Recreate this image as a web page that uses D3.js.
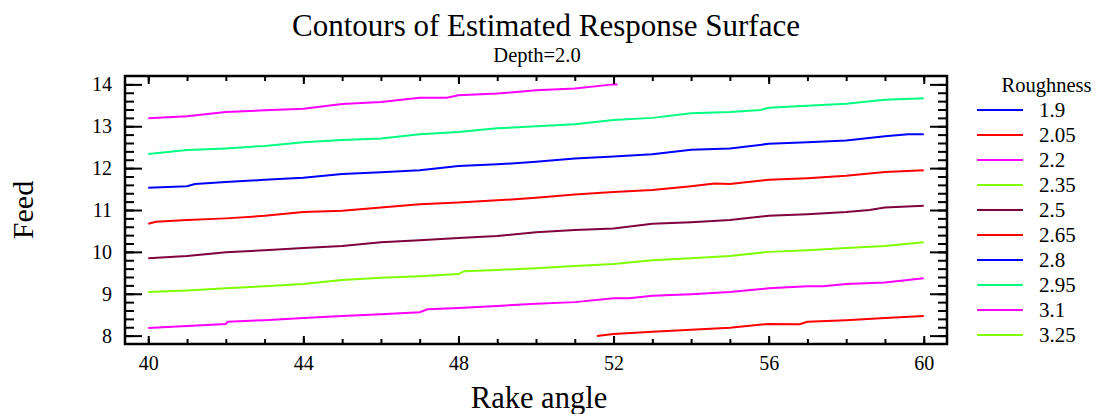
<!DOCTYPE html>
<html><head><meta charset="utf-8">
<script src="https://cdn.jsdelivr.net/npm/d3@7"></script>
<style>body{margin:0;background:#fff}svg{display:block}text{font-family:"Liberation Serif","Times New Roman",serif;fill:#000}</style>
</head><body><svg id="c" width="1096" height="414"></svg>
<script>
const title = "Contours of Estimated Response Surface";
const subtitle = "Depth=2.0";
const xLabel = "Rake angle";
const yLabel = "Feed";
const legendTitle = "Roughness";
const levels = ["1.9","2.05","2.2","2.35","2.5","2.65","2.8","2.95","3.1","3.25"];
const levelColors = ["#0000ff","#ff0000","#ff00ff","#80ff00","#800040","#ff0000","#0000ff","#00ff80","#ff00ff","#80ff00"];
const xTicks = [40,44,48,52,56,60];
const yTicks = [8,9,10,11,12,13,14];

// contour polylines [rake angle, feed]
const c205 = [[51.57,7.99],[52,8.04],[53,8.09],[54,8.14],[55,8.19],[56,8.28],[56.8,8.27],[57,8.33],[58,8.37],[59,8.42],[60,8.47]];
const c220 = [[40,8.18],[41,8.23],[42,8.28],[42.05,8.33],[43,8.37],[44,8.42],[45,8.47],[46,8.51],[47,8.56],[47.2,8.63],[48,8.66],[49,8.71],[50,8.76],[51,8.80],[52,8.89],[52.4,8.89],[53,8.95],[54,8.99],[55,9.04],[56,9.13],[57,9.18],[57.4,9.18],[58,9.23],[59,9.27],[60,9.37]];
const c235 = [[40,9.04],[41,9.08],[42,9.13],[43,9.18],[44,9.23],[45,9.33],[46,9.38],[47,9.42],[48,9.47],[48.15,9.54],[49,9.57],[50,9.61],[51,9.66],[52,9.71],[53,9.80],[54,9.85],[55,9.90],[56,10.0],[57,10.04],[58,10.09],[59,10.14],[60,10.23]];
const c250 = [[40,9.85],[41,9.90],[42,9.99],[43,10.04],[44,10.09],[45,10.14],[46,10.23],[47,10.28],[48,10.33],[49,10.38],[50,10.47],[51,10.52],[52,10.56],[53,10.67],[54,10.71],[55,10.76],[56,10.86],[57,10.90],[58,10.95],[58.6,11.0],[59,11.06],[60,11.10]];
const c265 = [[40,10.67],[40.2,10.72],[41,10.76],[42,10.80],[43,10.86],[44,10.95],[45,10.98],[46,11.06],[47,11.14],[48,11.18],[49,11.23],[50,11.29],[51,11.37],[52,11.43],[53,11.48],[54,11.57],[54.6,11.63],[55,11.62],[56,11.72],[57,11.76],[58,11.82],[59,11.91],[60,11.95]];
const c280 = [[40,11.53],[41,11.57],[41.2,11.62],[42,11.67],[43,11.72],[44,11.77],[45,11.86],[46,11.90],[47,11.95],[48,12.05],[49,12.09],[50,12.15],[51,12.23],[52,12.28],[53,12.33],[54,12.44],[55,12.47],[56,12.58],[57,12.62],[58,12.66],[59,12.76],[59.6,12.81],[60,12.81]];
const c295 = [[40,12.34],[41,12.43],[42,12.47],[43,12.53],[44,12.62],[45,12.67],[46,12.71],[47,12.81],[48,12.86],[49,12.95],[50,13.0],[51,13.05],[52,13.15],[53,13.20],[54,13.31],[55,13.34],[55.8,13.39],[56,13.44],[57,13.49],[58,13.54],[59,13.63],[60,13.67]];
const c310 = [[40,13.19],[41,13.24],[42,13.34],[43,13.38],[44,13.42],[45,13.53],[46,13.58],[47,13.68],[47.7,13.68],[48,13.74],[49,13.78],[50,13.86],[51,13.90],[52,14.0],[52.1,14.0]];
const contours = [
  {level:"2.05", pts:c205},{level:"2.2", pts:c220},{level:"2.35", pts:c235},{level:"2.5", pts:c250},
  {level:"2.65", pts:c265},{level:"2.8", pts:c280},{level:"2.95", pts:c295},{level:"3.1", pts:c310}
];

const svg = d3.select("#c");
const L = 125, R = 947, T = 76, B = 344;
const x = d3.scaleLinear().domain([39.4, 60.6]).range([L, R]);
const y = d3.scaleLinear().domain([7.8, 14.2]).range([B, T]);
const color = d3.scaleOrdinal().domain(levels).range(levelColors);

svg.append("text").attr("x", 546).attr("y", 35.5).attr("text-anchor","middle").attr("font-size", 31).text(title);
svg.append("text").attr("x", 537).attr("y", 61.5).attr("text-anchor","middle").attr("font-size", 20.5).text(subtitle);

const line = d3.line().x(d => x(d[0])).y(d => y(d[1]));
svg.append("clipPath").attr("id", "pc").append("rect").attr("x", L).attr("y", T).attr("width", R-L).attr("height", B-T);
svg.append("g").attr("clip-path", "url(#pc)").selectAll("path").data(contours).join("path")
  .attr("d", d => line(d.pts)).attr("fill","none").attr("stroke", d => color(d.level)).attr("stroke-width", 2);

// axes
const minorX = d3.range(40, 61, 1);
const minorY = d3.range(8, 14.01, 0.2);
const gAx = svg.append("g");
gAx.append("g").attr("transform", `translate(0,${B})`).call(
  d3.axisBottom(x).tickValues(minorX).tickSizeInner(-5).tickSizeOuter(0).tickFormat(""));
gAx.append("g").attr("transform", `translate(0,${B})`).call(
  d3.axisBottom(x).tickValues(xTicks).tickSizeInner(-8).tickSizeOuter(0).tickPadding(12).tickFormat(d3.format("d")));
gAx.append("g").attr("transform", `translate(0,${T})`).call(
  d3.axisTop(x).tickValues(minorX).tickSizeInner(-5).tickSizeOuter(0).tickFormat(""));
gAx.append("g").attr("transform", `translate(0,${T})`).call(
  d3.axisTop(x).tickValues(xTicks).tickSizeInner(-8).tickSizeOuter(0).tickFormat(""));
gAx.append("g").attr("transform", `translate(${L},0)`).call(
  d3.axisLeft(y).tickValues(minorY).tickSizeInner(-9).tickSizeOuter(0).tickFormat(""));
gAx.append("g").attr("transform", `translate(${L},0)`).call(
  d3.axisLeft(y).tickValues(yTicks).tickSizeInner(-17).tickSizeOuter(0).tickPadding(13).tickFormat(d3.format("d")));
gAx.append("g").attr("transform", `translate(${R},0)`).call(
  d3.axisRight(y).tickValues(minorY).tickSizeInner(-9).tickSizeOuter(0).tickFormat(""));
gAx.append("g").attr("transform", `translate(${R},0)`).call(
  d3.axisRight(y).tickValues(yTicks).tickSizeInner(-17).tickSizeOuter(0).tickFormat(""));
gAx.selectAll(".domain").remove();
gAx.selectAll(".tick line").attr("stroke","#000").attr("stroke-width",2);
gAx.selectAll(".tick text").attr("font-family","Liberation Serif, serif").attr("font-size",20).attr("fill","#000");
svg.append("rect").attr("x", L).attr("y", T).attr("width", R-L).attr("height", B-T)
  .attr("fill","none").attr("stroke","#000").attr("stroke-width",2.5);

svg.append("text").attr("x", 539).attr("y", 408).attr("text-anchor","middle").attr("font-size", 30.5).text(xLabel);
svg.append("text").attr("transform","translate(33,210) rotate(-90)").attr("text-anchor","middle").attr("font-size", 30).text(yLabel);

// legend
const lg = svg.append("g");
lg.append("text").attr("x", 1046.5).attr("y", 91.5).attr("text-anchor","middle").attr("font-size", 20.5).text(legendTitle);
const items = lg.selectAll("g.it").data(levels).join("g").attr("class","it")
  .attr("transform", (d,i) => `translate(0,${110 + i*25})`);
items.append("line").attr("x1", 977).attr("x2", 1023).attr("y1",0).attr("y2",0)
  .attr("stroke", d => color(d)).attr("stroke-width", 2);
items.append("text").attr("x", 1039).attr("y", 6.7).attr("font-size", 21).text(d => d);
</script></body></html>
